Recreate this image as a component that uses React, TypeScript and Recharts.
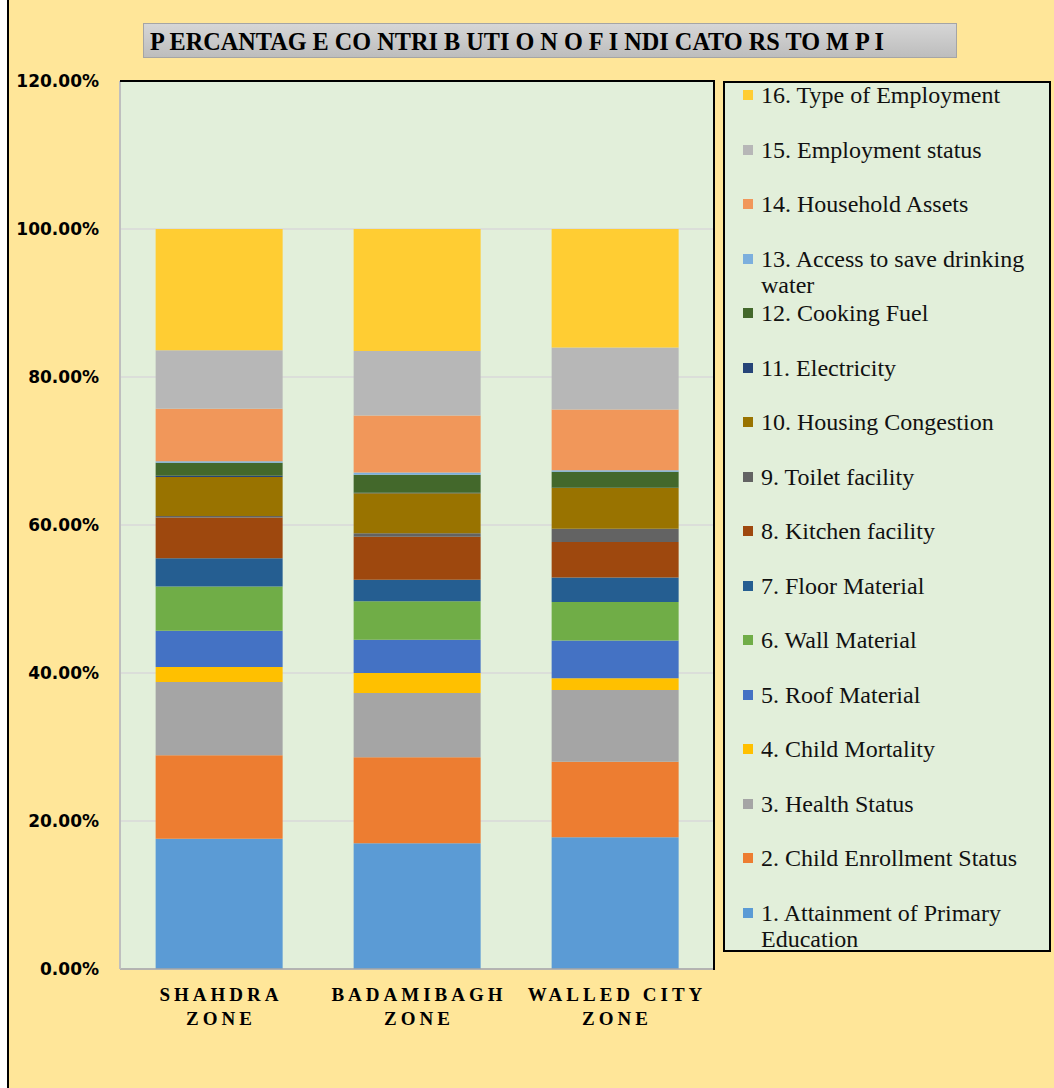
import { Bar, BarChart, CartesianGrid, XAxis, YAxis } from "recharts";

const zones = ["SHAHDRA ZONE", "BADAMIBAGH ZONE", "WALLED CITY ZONE"];

const indicators = [
  "1. Attainment of Primary Education",
  "2. Child Enrollment Status",
  "3. Health Status",
  "4. Child Mortality",
  "5. Roof Material",
  "6. Wall Material",
  "7. Floor Material",
  "8. Kitchen facility",
  "9. Toilet facility",
  "10. Housing Congestion",
  "11. Electricity",
  "12. Cooking Fuel",
  "13. Access to save drinking water",
  "14. Household Assets",
  "15. Employment status",
  "16. Type of Employment",
];

// percent share of each indicator, in the order above
const shahdra = [17.6, 11.3, 9.9, 2.0, 4.9, 6.0, 3.8, 5.5, 0.2, 5.3, 0.15, 1.75, 0.2, 7.1, 7.9, 16.4];
const badamibagh = [17.0, 11.6, 8.7, 2.7, 4.5, 5.2, 2.9, 5.8, 0.5, 5.4, 0.05, 2.45, 0.3, 7.7, 8.7, 16.5];
const walledCity = [17.8, 10.2, 9.7, 1.6, 5.1, 5.2, 3.3, 4.8, 1.8, 5.5, 0.05, 2.15, 0.2, 8.2, 8.4, 16.0];

const yTicks = [0, 20, 40, 60, 80, 100, 120];

const colors = [
  "#5B9BD5", "#ED7D31", "#A5A5A5", "#FFC000", "#4472C4", "#70AD47", "#255E91", "#9E480E",
  "#636363", "#997300", "#264478", "#43682B", "#7CAFDD", "#F1975A", "#B7B7B7", "#FFCD33",
];

const zoneValues = [shahdra, badamibagh, walledCity];

const data = zones.map((zone, i) => {
  const row: Record<string, string | number> = { zone };
  indicators.forEach((_, k) => {
    row["s" + k] = zoneValues[i][k];
  });
  return row;
});

const ZoneTick = (props: any) => {
  const { x, y, payload } = props;
  const words = String(payload.value).split(" ");
  const last = words.pop();
  return (
    <text
      x={x + 2}
      y={y}
      textAnchor="middle"
      fontFamily="'Liberation Serif', serif"
      fontWeight="bold"
      fontSize={19}
      letterSpacing={4}
      fill="#000"
    >
      <tspan x={x + 2} dy={24}>{words.join(" ")}</tspan>
      <tspan x={x + 2} dy={24}>{last}</tspan>
    </text>
  );
};

const LegendBox = () => {
  const items = indicators.map((name, k) => ({ name, color: colors[k] })).reverse();
  return (
    <div
      style={{
        position: "absolute",
        left: 723,
        top: 81,
        width: 324,
        height: 867,
        background: "#E2EFDA",
        border: "2px solid #000",
      }}
    >
      {items.map((it, i) => (
        <div
          key={it.name}
          style={{
            position: "absolute",
            left: 18,
            top: -1 + i * 54.5,
            width: 300,
            display: "flex",
            alignItems: "flex-start",
            fontFamily: "'Liberation Serif', serif",
            fontSize: 24,
            lineHeight: "26px",
            color: "#111",
          }}
        >
          <span
            style={{
              display: "inline-block",
              width: 10,
              height: 10,
              background: it.color,
              marginTop: 8,
              marginRight: 8,
              flex: "none",
            }}
          />
          <span style={{ width: 278 }}>{it.name}</span>
        </div>
      ))}
    </div>
  );
};

export default function App() {
  return (
    <div style={{ position: "absolute", left: 0, top: 0, width: 1054, height: 1088, background: "#fff", overflow: "hidden" }}>
      <div
        style={{
          position: "absolute",
          left: 7,
          top: 0,
          width: 1060,
          height: 1088,
          background: "#FFE699",
          borderLeft: "2px solid #000",
        }}
      />
      <div style={{ position: "absolute", left: 0, top: 0 }}>
        <BarChart
          width={1054}
          height={1088}
          data={data}
          margin={{ top: 81, right: 340, bottom: 59, left: 10 }}
          barCategoryGap="18%"
        >
          <CartesianGrid vertical={false} fill="#E2EFDA" stroke="#D9D9D9" strokeWidth={1.5} />
          <XAxis
            dataKey="zone"
            axisLine={{ stroke: "#A6A6A6", strokeWidth: 1.5 }}
            tickLine={false}
            height={60}
            interval={0}
            tick={<ZoneTick />}
          />
          <YAxis
            width={110}
            domain={[0, 120]}
            ticks={yTicks}
            tickFormatter={(v: number) => v.toFixed(2) + "%"}
            axisLine={{ stroke: "#BFBFBF", strokeWidth: 2 }}
            tickLine={false}
            tickMargin={15}
            tick={{ fontFamily: "'DejaVu Sans', sans-serif", fontWeight: "bold", fontSize: 17, fill: "#000" }}
          />
          {indicators.map((name, k) => (
            <Bar key={name} dataKey={"s" + k} name={name} stackId="a" fill={colors[k]} isAnimationActive={false} />
          ))}
        </BarChart>
      </div>
      <div
        style={{
          position: "absolute",
          left: 120,
          top: 80,
          width: 593,
          height: 888,
          borderTop: "2px solid #000",
          borderRight: "2px solid #000",
          pointerEvents: "none",
        }}
      />
      <LegendBox />
      <div
        style={{
          position: "absolute",
          left: 143,
          top: 23,
          width: 812,
          height: 33,
          background: "linear-gradient(#D6D6D6, #BDBDBD)",
          border: "1px solid #A5A5A5",
        }}
      >
        <svg width={812} height={33} style={{ display: "block" }}>
          <text
            x={6}
            y={26}
            textLength={734}
            lengthAdjust="spacingAndGlyphs"
            fontFamily="'Liberation Serif', serif"
            fontWeight="bold"
            fontSize={25}
            fill="#000"
          >
            P ERCANTAG E CO NTRI B UTI O N O F I NDI CATO RS TO M P I
          </text>
        </svg>
      </div>
    </div>
  );
}
